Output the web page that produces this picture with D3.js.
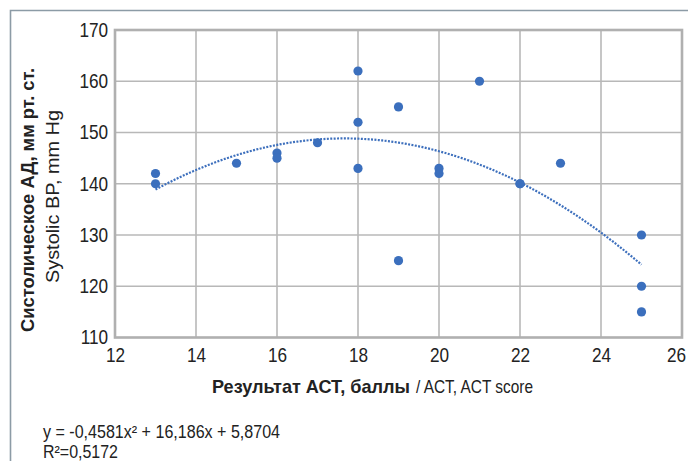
<!DOCTYPE html>
<html>
<head>
<meta charset="utf-8">
<script src="https://cdn.jsdelivr.net/npm/d3@7"></script>
<style>
	body { margin: 0; background: #fff; }
	svg { display: block; font-family: "Liberation Sans", Arial, sans-serif; }
</style>
</head>
<body>
<svg width="688" height="461"></svg>
<script>
'use strict';

// ACT score vs systolic BP
const actScore = [13, 13, 15, 16, 16, 17, 18, 18, 18, 19, 19, 20, 20, 21, 22, 22, 23, 25, 25, 25];
const systolicBP = [142, 140, 144, 146, 145, 148, 162, 152, 143, 155, 125, 143, 142, 160, 140, 140, 144, 130, 120, 115];

// polynomial trend printed on the chart: a*x^2 + b*x + c
const trendCoef = [-0.4581, 16.186, 5.8704];
const trendLabel = 'y = -0,4581x² + 16,186x + 5,8704';
const r2Label = 'R²=0,5172';

const xTicks = [12, 14, 16, 18, 20, 22, 24, 26];
const yTicks = [110, 120, 130, 140, 150, 160, 170];

const $svg = d3.select('svg');
const margin = {top: 30, right: 6, bottom: 123.5, left: 115};
const width = 688 - margin.left - margin.right;
const height = 461 - margin.top - margin.bottom;

const x = d3.scaleLinear().domain([12, 26]).range([margin.left, margin.left + width]);
const y = d3.scaleLinear().domain([110, 170]).range([margin.top + height, margin.top]);

// outer frame
$svg.append('path')
	.attr('d', 'M10.5,461V10.5H688')
	.attr('fill', 'none')
	.attr('stroke', '#8c9ba6')
	.attr('stroke-width', 1.6)
;

// grid
const $grid = $svg.append('g').attr('stroke', '#b8b8b8').attr('stroke-width', 1.6);
$grid.selectAll('.gx').data(xTicks.slice(1, -1)).join('line')
	.attr('x1', d => x(d)).attr('x2', d => x(d))
	.attr('y1', y(170)).attr('y2', y(110))
;
$grid.selectAll('.gy').data(yTicks.slice(1, -1)).join('line')
	.attr('x1', x(12)).attr('x2', x(26))
	.attr('y1', d => y(d)).attr('y2', d => y(d))
;

// plot border
$svg.append('rect')
	.attr('x', x(12)).attr('y', y(170))
	.attr('width', x(26) - x(12)).attr('height', y(110) - y(170))
	.attr('fill', 'none')
	.attr('stroke', '#b0b0b0')
	.attr('stroke-width', 2.6)
;

// axes (labels only), text squeezed to look condensed
const xAxis = d3.axisBottom(x).tickValues(xTicks).tickSize(0).tickPadding(10);
const yAxis = d3.axisLeft(y).tickValues(yTicks).tickSize(0).tickPadding(8);

$svg.append('g')
	.attr('transform', 'translate(0,' + y(110) + ')')
	.call(xAxis)
	.call(g => g.select('.domain').remove())
	.selectAll('text')
	.attr('font-size', 20)
	.attr('font-family', null)
	.attr('fill', '#222')
	.attr('transform', d => d === 26 ? 'translate(-6,0) scale(0.86,1)' : 'scale(0.86,1)')
;
$svg.append('g')
	.attr('transform', 'translate(' + x(12) + ',0)')
	.call(yAxis)
	.call(g => g.select('.domain').remove())
	.selectAll('text')
	.attr('font-size', 20)
	.attr('font-family', null)
	.attr('fill', '#222')
	.attr('transform', 'scale(0.86,1)')
;

// trend line
const trend = d3.range(13, 25.001, 0.1).map(v => [v, trendCoef[0] * v * v + trendCoef[1] * v + trendCoef[2]]);
$svg.append('path')
	.datum(trend)
	.attr('d', d3.line().x(d => x(d[0])).y(d => y(d[1])))
	.attr('fill', 'none')
	.attr('stroke', '#3e70bd')
	.attr('stroke-width', 2.2)
	.attr('stroke-dasharray', '2,1.4')
;

// points
$svg.append('g')
	.selectAll('circle')
	.data(actScore.map((d, i) => [d, systolicBP[i]]))
	.join('circle')
	.attr('cx', d => x(d[0]))
	.attr('cy', d => y(d[1]))
	.attr('r', 4.6)
	.attr('fill', '#3b6fbd')
;

// x title, bold russian part + plain english part
$svg.append('text')
	.attr('x', 212)
	.attr('y', 393)
	.attr('font-size', 19)
	.attr('font-weight', 'bold')
	.attr('fill', '#222')
	.attr('textLength', 198)
	.attr('lengthAdjust', 'spacingAndGlyphs')
	.text('Результат АСТ, баллы')
;
$svg.append('text')
	.attr('x', 416)
	.attr('y', 393)
	.attr('font-size', 19)
	.attr('fill', '#222')
	.attr('textLength', 117)
	.attr('lengthAdjust', 'spacingAndGlyphs')
	.text('/ ACT, ACT score')
;

// y title
$svg.append('text')
	.attr('transform', 'translate(34,332) rotate(-90)')
	.attr('font-size', 19)
	.attr('font-weight', 'bold')
	.attr('fill', '#222')
	.attr('textLength', 264)
	.attr('lengthAdjust', 'spacingAndGlyphs')
	.text('Систолическое АД, мм рт. ст.')
;
$svg.append('text')
	.attr('transform', 'translate(59,283) rotate(-90)')
	.attr('font-size', 19)
	.attr('fill', '#222')
	.attr('textLength', 173)
	.attr('lengthAdjust', 'spacingAndGlyphs')
	.text('Systolic BP, mm Hg')
;

// equation
$svg.append('text')
	.attr('x', 43).attr('y', 438)
	.attr('font-size', 18)
	.attr('fill', '#222')
	.attr('textLength', 237)
	.attr('lengthAdjust', 'spacingAndGlyphs')
	.text(trendLabel)
;
$svg.append('text')
	.attr('x', 43).attr('y', 458)
	.attr('font-size', 18)
	.attr('fill', '#222')
	.attr('textLength', 75)
	.attr('lengthAdjust', 'spacingAndGlyphs')
	.text(r2Label)
;
</script>
</body>
</html>
